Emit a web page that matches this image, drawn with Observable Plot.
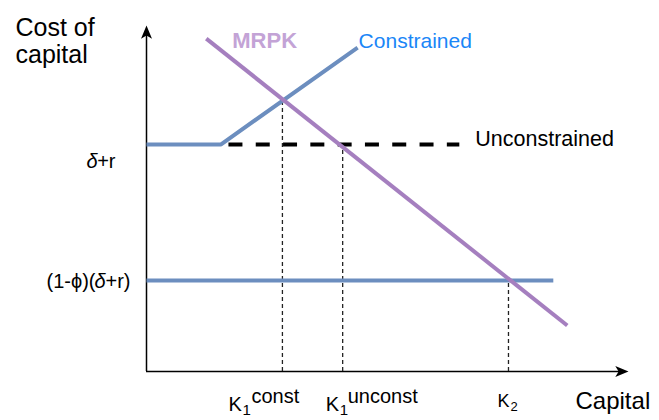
<!DOCTYPE html>
<html><head><meta charset="utf-8">
<script src="https://cdn.jsdelivr.net/npm/d3@7"></script>
<script src="https://cdn.jsdelivr.net/npm/@observablehq/plot@0.6"></script>
<style>body{margin:0;background:#fff;} svg{font-family:"Liberation Sans",Arial,Helvetica,sans-serif;}</style>
</head><body><div id="chart"></div>
<script>
// ---- data (abstract units) ----
const constrainedX = [0, 1.54, 4.38];
const constrainedY = [6.56, 6.56, 9.36];
const unconstrainedX = [1.70, 6.49];
const unconstrainedY = [6.56, 6.56];
const mrpkX = [1.24, 8.73];
const mrpkY = [9.62, 1.33];
const floorX = [0, 8.44];
const floorY = [2.63, 2.63];
const kTicks = [2.82, 4.07, 7.51];
const kTops = [7.86, 6.56, 2.63];
const kBase = ["K", "K", "K"];
const kSub = ["1", "1", "2"];
const kSup = ["const", "unconst", ""];
const yTickValues = [6.56, 2.63];
const yTickPre = ["", "(1-ϕ)("];
const yTickMid = ["δ", "δ"];
const yTickPost = ["+r", "+r)"];
const seriesNames = ["MRPK", "Constrained", "Unconstrained"];
const xAxisLabel = "Capital";
const yAxisLabel = "Cost of\ncapital";

// ---- tables ----
const pts = (xs, ys) => xs.map((x, i) => ({x, y: ys[i]}));
const constrained = pts(constrainedX, constrainedY);
const unconstrained = pts(unconstrainedX, unconstrainedY);
const mrpk = pts(mrpkX, mrpkY);
const floor = pts(floorX, floorY);
const kData = kTicks.map((x, i) => ({x, top: kTops[i], base: kBase[i], sub: kSub[i], sup: kSup[i]}));

const FONT = "Liberation Sans, Arial, Helvetica, sans-serif";
const BLUE = "#6c8ebf", PURPLE = "#a57fbf";

// filled, notched arrowhead with its tip at the origin, pointing up
const arrowHead = {
  draw(ctx, size) {
    const k = Math.sqrt(size / Math.PI) / 5;
    ctx.moveTo(0, 0);
    ctx.lineTo(5 * k, 12 * k);
    ctx.lineTo(0, 9 * k);
    ctx.lineTo(-5 * k, 12 * k);
    ctx.closePath();
  }
};

// per-label styling for the K tick labels
const kStyle = [
  {dx: -54, size: 20, dy: 39, subDx: 14, subSize: 15, subDy: 43, supDx: 23, supDy: 31},
  {dx: -17, size: 20, dy: 39, subDx: 14, subSize: 15, subDy: 43, supDx: 22, supDy: 31},
  {dx: -11, size: 18, dy: 35, subDx: 13, subSize: 13, subDy: 39, supDx: 22, supDy: 28}
];
const kMarks = kData.flatMap((d, i) => {
  const s = kStyle[i];
  const common = {x: "x", y: () => 0, textAnchor: "start", lineAnchor: "bottom", fontFamily: FONT, fill: "#000"};
  return [
    Plot.text([d], {...common, text: "base", dx: s.dx, dy: s.dy, fontSize: s.size}),
    Plot.text([d], {...common, text: "sub", dx: s.dx + s.subDx, dy: s.subDy, fontSize: s.subSize}),
    Plot.text([d], {...common, text: "sup", dx: s.dx + s.supDx, dy: s.supDy, fontSize: 20})
  ];
});

// y tick labels (δ italic)
const yStyle = [
  {dy: 23, postDx: -31, midDx: -49, preDx: -60},
  {dy: 7, postDx: -16, midDx: -41, preDx: -51}
];
const yMarks = yTickValues.flatMap((v, i) => {
  const s = yStyle[i];
  const common = {x: () => 0, y: () => v, textAnchor: "end", lineAnchor: "bottom", fontFamily: FONT, fontSize: 20, fill: "#000", dy: s.dy};
  return [
    Plot.text([yTickPost[i]], {...common, dx: s.postDx}),
    Plot.text([yTickMid[i]], {...common, dx: s.midDx, fontStyle: "italic"}),
    ...(yTickPre[i] ? [Plot.text([yTickPre[i]], {...common, dx: s.preDx})] : [])
  ];
});

const chart = Plot.plot({
  width: 659,
  height: 420,
  marginLeft: 146,
  marginRight: 31,
  marginTop: 25,
  marginBottom: 49,
  x: {domain: [0, 10], axis: null},
  y: {domain: [0, 10], axis: null},
  style: {background: "#fff", overflow: "visible"},
  marks: [
    // axes
    Plot.ruleX([0], {y1: 0, y2: 9.72, stroke: "#000", strokeWidth: 1.5}),
    Plot.ruleY([0], {x1: 0, x2: 9.82, stroke: "#000", strokeWidth: 1.5}),
    Plot.dot([{x: 0, y: 10}], {x: "x", y: "y", symbol: arrowHead, r: 5.5, fill: "#000", stroke: null}),
    Plot.dot([{x: 10, y: 0}], {x: "x", y: "y", symbol: arrowHead, r: 5.5, fill: "#000", stroke: null, rotate: 90}),
    // dropped dashed verticals
    Plot.ruleX(kData, {x: "x", y1: 0, y2: "top", stroke: "#222", strokeWidth: 1.3, strokeDasharray: "4,3"}),
    // curves
    Plot.line(floor, {x: "x", y: "y", stroke: BLUE, strokeWidth: 4, strokeLinecap: "butt"}),
    Plot.line(constrained, {x: "x", y: "y", stroke: BLUE, strokeWidth: 4, strokeLinecap: "butt", strokeLinejoin: "miter"}),
    Plot.line(unconstrained, {x: "x", y: "y", stroke: "#000", strokeWidth: 4, strokeDasharray: "14,13.3", strokeLinecap: "butt"}),
    Plot.line(mrpk, {x: "x", y: "y", stroke: PURPLE, strokeWidth: 4, strokeLinecap: "butt"}),
    // series labels
    Plot.text([mrpk[0]], {x: "x", y: "y", text: () => seriesNames[0], textAnchor: "start", lineAnchor: "bottom", dx: 26, dy: 9, fontSize: 22, fontWeight: "bold", fill: "#c3a3d6", fontFamily: FONT}),
    Plot.text([constrained[2]], {x: "x", y: "y", text: () => seriesNames[1], textAnchor: "start", lineAnchor: "bottom", dx: 1, dy: 0, fontSize: 21, fill: "#1a86f7", fontFamily: FONT}),
    Plot.text([unconstrained[1]], {x: "x", y: "y", text: () => seriesNames[2], textAnchor: "start", lineAnchor: "bottom", dx: 16, dy: 1, fontSize: 21.5, fill: "#000", fontFamily: FONT}),
    // axis titles
    Plot.text([yAxisLabel], {frameAnchor: "top-left", textAnchor: "start", lineAnchor: "bottom", lineHeight: 1.08, dx: -131, dy: 37, fontSize: 25, fill: "#000", fontFamily: FONT}),
    Plot.text([xAxisLabel], {frameAnchor: "bottom-right", textAnchor: "start", lineAnchor: "bottom", dx: -53, dy: 37, fontSize: 24, fill: "#000", fontFamily: FONT}),
    ...kMarks,
    ...yMarks
  ]
});
document.getElementById("chart").appendChild(chart);
</script>
</body></html>
